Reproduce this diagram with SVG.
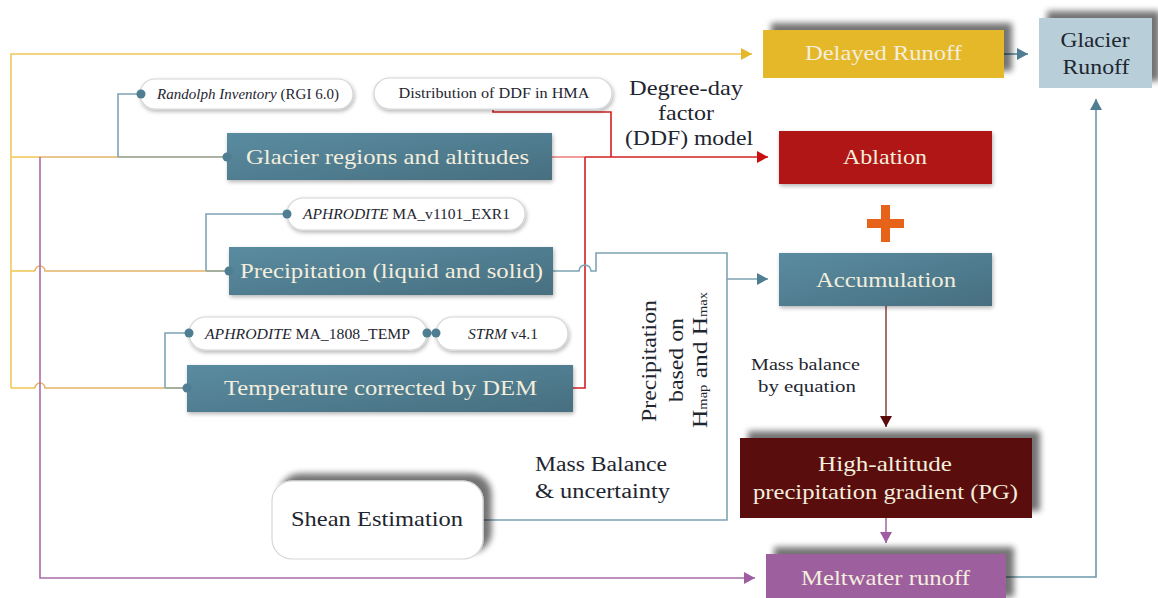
<svg xmlns="http://www.w3.org/2000/svg" width="1158" height="598" viewBox="0 0 1158 598">
<style>
  text { font-family: "Liberation Serif", "DejaVu Serif", serif; }
  .lt { fill: #F3EEDD; font-size: 21px; text-anchor: middle; }
  .dk { fill: #1E2630; text-anchor: middle; }
  .pill { fill: #FFFFFF; stroke: #D2D6D8; stroke-width: 1.2; }
  .pt { fill: #1E2630; font-size: 14px; text-anchor: middle; }
  .dot { fill: #4F7D92; }
  .c { fill: none; stroke-width: 1.6; }
  .teal { fill: url(#tealg); }
  .bg { stroke: #7FA3B4; }
  .yl { stroke: #F0C85A; }
  .og { stroke: #E3B469; }
  .rd { stroke: #D42020; }
  .lr { stroke: #EC7C7C; }
  .pp { stroke: #A86CA8; }
</style>
<defs>
  <linearGradient id="tealg" x1="0" y1="0" x2="1" y2="1">
    <stop offset="0" stop-color="#5A8CA1"/>
    <stop offset="1" stop-color="#476F80"/>
  </linearGradient>
  <filter id="sh" x="-20%" y="-40%" width="140%" height="180%">
    <feGaussianBlur in="SourceAlpha" stdDeviation="3"/>
    <feOffset dx="8" dy="-7" result="o"/>
    <feComponentTransfer><feFuncA type="linear" slope="0.55"/></feComponentTransfer>
    <feMerge><feMergeNode/><feMergeNode in="SourceGraphic"/></feMerge>
  </filter>
  <filter id="sh2" x="-10%" y="-30%" width="120%" height="170%">
    <feGaussianBlur in="SourceAlpha" stdDeviation="2"/>
    <feOffset dx="1" dy="2" result="o"/>
    <feComponentTransfer><feFuncA type="linear" slope="0.3"/></feComponentTransfer>
    <feMerge><feMergeNode/><feMergeNode in="SourceGraphic"/></feMerge>
  </filter>
  <marker id="aY" markerUnits="userSpaceOnUse" markerWidth="12" markerHeight="12" refX="11" refY="6" orient="auto"><path d="M0,0 L11,6 L0,12 z" fill="#E5B82A"/></marker>
  <marker id="aB" markerUnits="userSpaceOnUse" markerWidth="12" markerHeight="12" refX="11" refY="6" orient="auto"><path d="M0,0 L11,6 L0,12 z" fill="#4F7D92"/></marker>
  <marker id="aR" markerUnits="userSpaceOnUse" markerWidth="12" markerHeight="12" refX="11" refY="6" orient="auto"><path d="M0,0 L11,6 L0,12 z" fill="#C81010"/></marker>
  <marker id="aM" markerUnits="userSpaceOnUse" markerWidth="12" markerHeight="12" refX="11" refY="6" orient="auto"><path d="M0,0 L11,6 L0,12 z" fill="#5A0A0A"/></marker>
  <marker id="aP" markerUnits="userSpaceOnUse" markerWidth="12" markerHeight="12" refX="11" refY="6" orient="auto"><path d="M0,0 L11,6 L0,12 z" fill="#A05CA0"/></marker>
</defs>
<rect width="1158" height="598" fill="#FFFFFF"/>

<g id="connectors">
  <path class="c yl" d="M11,388 V54 H752" marker-end="url(#aY)"/>
  <path class="c yl" d="M11,157 H40"/>
  <path class="c og" d="M40,157 H118"/>
  <path class="c" stroke="#909A86" d="M118,157 H226"/>
  <path class="c yl" d="M11,271 H35"/>
  <path class="c og" d="M35,271 A5,5 0 0 1 45,271 H206"/>
  <path class="c" stroke="#909A86" d="M206,271 H229"/>
  <path class="c yl" d="M11,388 H35"/>
  <path class="c og" d="M35,388 A5,5 0 0 1 45,388 H165"/>
  <path class="c" stroke="#909A86" d="M165,388 H187"/>
  <path class="c pp" d="M40,157 V578 H755" marker-end="url(#aP)"/>
  <path class="c bg" d="M141,94 H118 V157"/>
  <path class="c bg" d="M287,214 H206 V271"/>
  <path class="c bg" d="M189,333 H165 V388"/>
  <path class="c bg" d="M427,333 H436"/>
  <path class="c lr" d="M552,157 H585"/>
  <path class="c rd" d="M585,157 H768" marker-end="url(#aR)"/>
  <path class="c rd" d="M573,388 H585 V157"/>
  <path class="c rd" d="M493,110 V112 H611 V157"/>
  <path class="c bg" d="M553,271 H579 A6,6 0 0 1 591,271 H596 V253 H727 V279 H768" marker-end="url(#aB)"/>
  <path class="c bg" d="M483,520 H727 V279"/>
  <path class="c" stroke="#8E4B4B" d="M886,306 V427" marker-end="url(#aM)"/>
  <path class="c pp" d="M886,518 V543" marker-end="url(#aP)"/>
  <path class="c" stroke="#6C98AC" d="M1006,577 H1096 V99" marker-end="url(#aB)"/>
  <path class="c" stroke="#5F8FA5" d="M1004,54 H1028" marker-end="url(#aB)"/>
</g>

<g id="delayed-runoff">
  <rect x="763" y="30" width="241" height="48" fill="#E5B82A" filter="url(#sh)"/>
  <text class="lt" x="883.5" y="60" textLength="157" lengthAdjust="spacingAndGlyphs">Delayed Runoff</text>
</g>
<g id="glacier-runoff">
  <rect x="1039" y="18" width="113" height="70" fill="#B8CFDA" filter="url(#sh)"/>
  <text class="dk" x="1095" y="47" font-size="21" textLength="69" lengthAdjust="spacingAndGlyphs">Glacier</text>
  <text class="dk" x="1096" y="74" font-size="21" textLength="67" lengthAdjust="spacingAndGlyphs">Runoff</text>
</g>
<g id="randolph">
  <rect class="pill" x="140" y="79" width="213" height="30" rx="15" filter="url(#sh2)"/>
  <circle class="dot" cx="141" cy="94" r="4.5"/>
  <text class="pt" x="248" y="99" textLength="182" lengthAdjust="spacingAndGlyphs"><tspan font-style="italic">Randolph Inventory</tspan> (RGI 6.0)</text>
</g>
<g id="ddf-distribution">
  <rect class="pill" x="374" y="78" width="238" height="31" rx="15.5" filter="url(#sh2)"/>
  <text class="pt" x="494" y="98" textLength="191" lengthAdjust="spacingAndGlyphs">Distribution of DDF in HMA</text>
</g>
<g id="ddf-label">
  <text class="dk" font-size="21" x="686" y="95" textLength="114" lengthAdjust="spacingAndGlyphs">Degree-day</text>
  <text class="dk" font-size="21" x="686" y="120" textLength="56" lengthAdjust="spacingAndGlyphs">factor</text>
  <text class="dk" font-size="21" x="689" y="145" textLength="128" lengthAdjust="spacingAndGlyphs">(DDF) model</text>
</g>
<g id="glacier-regions">
  <rect class="teal" x="227" y="133" width="325" height="47" filter="url(#sh2)"/>
  <circle class="dot" cx="227" cy="157" r="4.5"/>
  <text class="lt" x="387.5" y="164" textLength="283" lengthAdjust="spacingAndGlyphs">Glacier regions and altitudes</text>
</g>
<g id="ablation">
  <rect x="779" y="131" width="213" height="53" fill="#B01515" filter="url(#sh2)"/>
  <text class="lt" x="885" y="164" textLength="84" lengthAdjust="spacingAndGlyphs">Ablation</text>
</g>
<g id="plus">
  <rect x="867" y="219" width="37" height="9" fill="#E8631A"/>
  <rect x="881" y="205" width="9" height="37" fill="#E8631A"/>
</g>
<g id="aphrodite-precip">
  <rect class="pill" x="287" y="198" width="238" height="32" rx="16" filter="url(#sh2)"/>
  <circle class="dot" cx="287" cy="214" r="4.5"/>
  <text class="pt" x="406.5" y="219" textLength="207" lengthAdjust="spacingAndGlyphs"><tspan font-style="italic">APHRODITE</tspan> MA_v1101_EXR1</text>
</g>
<g id="precipitation">
  <rect class="teal" x="229" y="247" width="324" height="48" filter="url(#sh2)"/>
  <circle class="dot" cx="229" cy="271" r="4.5"/>
  <text class="lt" x="391.5" y="278" textLength="303" lengthAdjust="spacingAndGlyphs">Precipitation (liquid and solid)</text>
</g>
<g id="accumulation">
  <rect class="teal" x="779" y="253" width="213" height="53" filter="url(#sh2)"/>
  <text class="lt" x="886" y="287" textLength="140" lengthAdjust="spacingAndGlyphs">Accumulation</text>
</g>
<g id="aphrodite-temp">
  <rect class="pill" x="189" y="317" width="238" height="33" rx="16.5" filter="url(#sh2)"/>
  <circle class="dot" cx="189" cy="333" r="4.5"/>
  <circle class="dot" cx="427" cy="333" r="4.5"/>
  <text class="pt" x="307.5" y="339" textLength="205" lengthAdjust="spacingAndGlyphs"><tspan font-style="italic">APHRODITE</tspan> MA_1808_TEMP</text>
</g>
<g id="strm">
  <rect class="pill" x="436" y="317" width="132" height="33" rx="16.5" filter="url(#sh2)"/>
  <circle class="dot" cx="436" cy="333" r="4.5"/>
  <text class="pt" x="503" y="339" textLength="70" lengthAdjust="spacingAndGlyphs"><tspan font-style="italic">STRM</tspan> v4.1</text>
</g>
<g id="temperature">
  <rect class="teal" x="187" y="365" width="386" height="47" filter="url(#sh2)"/>
  <circle class="dot" cx="187" cy="388" r="4.5"/>
  <text class="lt" x="380.5" y="395" textLength="313" lengthAdjust="spacingAndGlyphs">Temperature corrected by DEM</text>
</g>
<g id="precip-hmap-label">
  <g transform="translate(656,361) rotate(-90)">
    <text class="dk" font-size="21" x="0" y="0" textLength="122" lengthAdjust="spacingAndGlyphs">Precipitation</text>
  </g>
  <g transform="translate(683,360) rotate(-90)">
    <text class="dk" font-size="21" x="0" y="0" textLength="84" lengthAdjust="spacingAndGlyphs">based on</text>
  </g>
  <g transform="translate(707,360) rotate(-90)">
    <text class="dk" font-size="21" x="0" y="0" textLength="136" lengthAdjust="spacingAndGlyphs">H<tspan font-size="12">map</tspan> and H<tspan font-size="12">max</tspan></text>
  </g>
</g>
<g id="mass-balance-eq-label">
  <text class="dk" font-size="16" x="805.5" y="370" textLength="109" lengthAdjust="spacingAndGlyphs">Mass balance</text>
  <text class="dk" font-size="16" x="807" y="392" textLength="98" lengthAdjust="spacingAndGlyphs">by equation</text>
</g>
<g id="pg">
  <rect x="740" y="438" width="292" height="80" fill="#5A0A0A" filter="url(#sh)"/>
  <text class="lt" x="885" y="471" textLength="134" lengthAdjust="spacingAndGlyphs">High-altitude</text>
  <text class="lt" x="885.5" y="499" textLength="265" lengthAdjust="spacingAndGlyphs">precipitation gradient (PG)</text>
</g>
<g id="mass-balance-uncertainty-label">
  <text fill="#1E2630" font-size="20" x="535" y="471" textLength="132" lengthAdjust="spacingAndGlyphs">Mass Balance</text>
  <text fill="#1E2630" font-size="20" x="535" y="498" textLength="135" lengthAdjust="spacingAndGlyphs">&amp; uncertainty</text>
</g>
<g id="shean">
  <rect x="272" y="481" width="211" height="78" rx="20" fill="#FFFFFF" stroke="#D2D6D8" stroke-width="1.2" filter="url(#sh)"/>
  <text class="dk" font-size="21" x="377" y="526" textLength="172" lengthAdjust="spacingAndGlyphs">Shean Estimation</text>
</g>
<g id="meltwater">
  <rect x="766" y="554" width="240" height="50" fill="#9E5E9E" filter="url(#sh)"/>
  <text class="lt" x="885.5" y="585" textLength="169" lengthAdjust="spacingAndGlyphs">Meltwater runoff</text>
</g>
</svg>
